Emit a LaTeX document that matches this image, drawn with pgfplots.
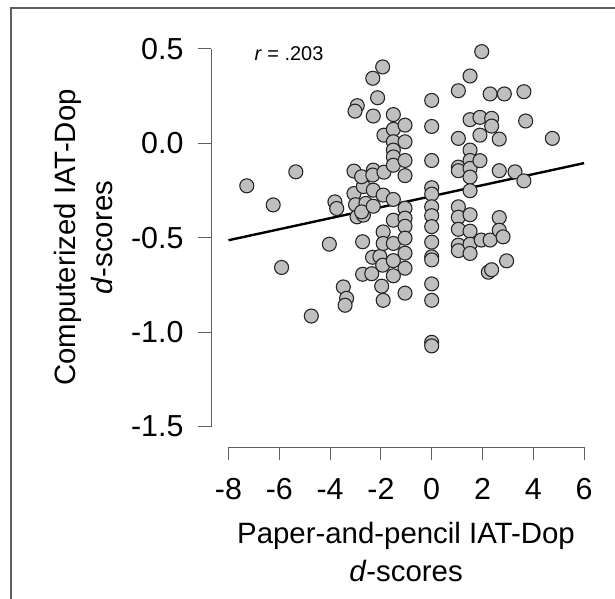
\documentclass[border=0pt]{standalone}
\usepackage{fontspec}
\setmainfont{Liberation Sans}
\usepackage{pgfplots}
\pgfplotsset{compat=1.18}
\definecolor{ptfill}{RGB}{191,191,191}
\definecolor{ptedge}{RGB}{38,38,38}
\definecolor{axgray}{RGB}{95,95,95}

\begin{document}
\begin{tikzpicture}
\useasboundingbox (0,0) rectangle (615bp,599bp);
\draw[axgray, line width=1.2bp] (11bp,0) -- (11bp,591bp) -- (615bp,591bp);
\begin{axis}[
  at={(228.5bp,172.4bp)}, anchor=south west,
  scale only axis, width=355.6bp, height=378bp,
  xmin=-8, xmax=6, ymin=-1.5, ymax=0.5,
  axis x line*=bottom, axis y line*=left,
  axis x line shift=20.4bp, axis y line shift=17.5bp,
  axis line style={axgray, line width=0.9bp, -},
  xtick={-8,-6,...,6}, xticklabels={-8,-6,-4,-2,0,2,4,6},
  ytick={-1.5,-1,-0.5,0,0.5}, yticklabels={-1.5,-1.0,-0.5,0.0,0.5},
  tick align=outside, major tick length=13bp,
  tick style={axgray, line width=0.9bp},
  ticklabel style={font=\fontsize{30.5}{34}\selectfont},
  xticklabel style={yshift=-15bp},
  yticklabel style={xshift=-11bp},
  clip=false,
]
\addplot[only marks, mark=*, mark size=7bp,
  mark options={fill=ptfill, draw=ptedge, line width=1.1bp}]
  table {
x y
-7.28 -0.226
-5.35 -0.152
-6.24 -0.327
-5.91 -0.658
-4.74 -0.915
-4.03 -0.535
-3.81 -0.311
-3.74 -0.346
-3.48 -0.761
-3.35 -0.821
-3.41 -0.858
-2.93 0.198
-3.02 0.169
-3.06 -0.148
-3.06 -0.267
-3.00 -0.326
-2.94 -0.390
-2.72 -0.522
-2.69 -0.230
-2.76 -0.178
-2.59 -0.319
-2.69 -0.381
-2.76 -0.364
-2.72 -0.694
-2.36 -0.691
-2.32 0.343
-2.30 0.143
-2.30 -0.143
-2.32 -0.169
-2.30 -0.249
-2.30 -0.334
-2.33 -0.604
-2.04 -0.600
-1.93 0.403
-2.13 0.240
-1.88 0.042
-1.88 -0.154
-1.91 -0.275
-1.91 -0.470
-1.91 -0.531
-1.93 -0.646
-1.97 -0.757
-1.91 -0.832
-1.51 0.151
-1.51 0.073
-1.51 0.007
-1.51 -0.037
-1.51 -0.073
-1.51 -0.117
-1.51 -0.298
-1.51 -0.408
-1.51 -0.531
-1.51 -0.622
-1.51 -0.702
-1.05 0.095
-1.05 0.007
-1.05 -0.092
-1.05 -0.172
-1.05 -0.345
-1.05 -0.397
-1.05 -0.440
-1.05 -0.503
-1.05 -0.582
-1.05 -0.662
-1.05 -0.794
0 0.226
0 0.088
0 -0.092
0 -0.236
0 -0.270
0 -0.337
0 -0.384
0 -0.442
0 -0.524
0 -0.602
0 -0.618
0 -0.745
0 -0.832
0 -1.054
0 -1.073
1.05 0.277
1.05 0.025
1.05 -0.127
1.05 -0.146
1.05 -0.337
1.05 -0.392
1.05 -0.456
1.05 -0.540
1.05 -0.569
1.51 0.355
1.51 0.124
1.51 -0.037
1.51 -0.092
1.51 -0.134
1.51 -0.180
1.51 -0.252
1.51 -0.379
1.51 -0.466
1.51 -0.535
1.51 -0.584
1.97 0.484
1.90 0.136
1.90 0.042
1.90 -0.093
1.95 -0.513
2.30 0.260
2.36 0.131
2.36 0.090
2.30 -0.513
2.23 -0.683
2.36 -0.670
2.66 0.021
2.66 -0.146
2.66 -0.394
2.66 -0.461
2.81 -0.496
2.95 -0.623
2.86 0.260
3.28 -0.152
3.63 0.272
3.70 0.117
3.63 -0.200
4.75 0.025
};
\addplot[black, line width=2.4bp] coordinates {(-8,-0.514) (6,-0.106)};
\end{axis}
\node[font=\fontsize{20}{24}\selectfont] at (289bp,545bp) {\textit{r} = .203};
\node[align=center, font=\fontsize{29.5}{38}\selectfont] at (406bp,47bp)
  {Paper-and-pencil IAT-Dop\\\textit{d}-scores};
\node[rotate=90, align=center, font=\fontsize{29.5}{38}\selectfont] at (83.5bp,361.4bp)
  {Computerized IAT-Dop\\\textit{d}-scores};
\end{tikzpicture}
\end{document}
